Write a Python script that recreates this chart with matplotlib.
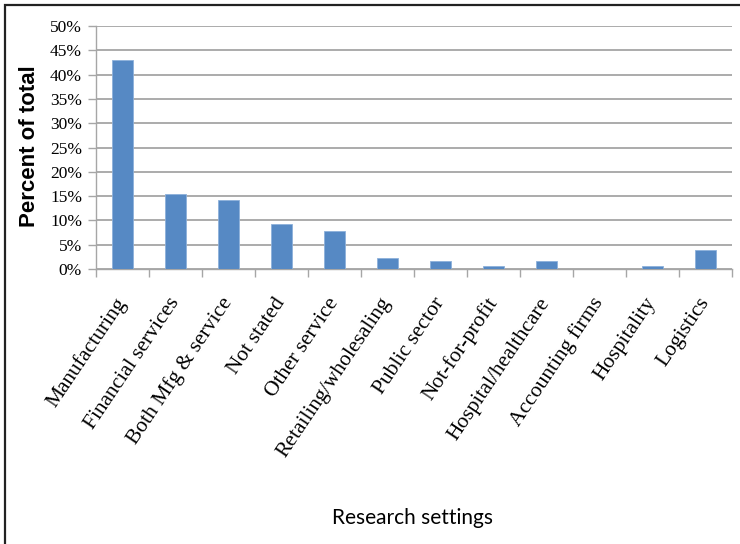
import matplotlib.pyplot as plt
from matplotlib.patches import Rectangle
from matplotlib.ticker import FixedLocator, FuncFormatter

settings = [
    "Manufacturing",
    "Financial services",
    "Both Mfg & service",
    "Not stated",
    "Other service",
    "Retailing/wholesaling",
    "Public sector",
    "Not-for-profit",
    "Hospital/healthcare",
    "Accounting firms",
    "Hospitality",
    "Logistics",
]
percent = [43.0, 15.4, 14.3, 9.3, 7.8, 2.2, 1.65, 0.6, 1.65, 0.0, 0.6, 3.85]
y_ticks = [0, 5, 10, 15, 20, 25, 30, 35, 40, 45, 50]

fig = plt.figure(figsize=(7.4, 5.44), dpi=100)
ax = fig.add_axes([96 / 740, 1 - 269 / 544, (732 - 96) / 740, (269 - 26) / 544])

x = list(range(len(settings)))
ax.bar(x, percent, width=0.4, color="#5689C4", edgecolor="#8DB0DA", linewidth=0.6, zorder=3)

ax.set_xlim(-0.5, len(settings) - 0.5)
ax.set_ylim(0, 50)
ax.set_yticks(y_ticks)
ax.yaxis.set_major_formatter(FuncFormatter(lambda v, p: f"{int(v)}%"))
ax.grid(axis="y", color="#ABABAB", linewidth=1.4, zorder=0)
ax.set_axisbelow(True)

for s in ["top", "right"]:
    ax.spines[s].set_visible(False)
for s in ["left", "bottom"]:
    ax.spines[s].set_color("#A6A6A6")
    ax.spines[s].set_linewidth(1.0)

ax.tick_params(axis="y", length=6, color="#A6A6A6", width=1.0, pad=4)
for lbl in ax.get_yticklabels():
    lbl.set_fontfamily("Liberation Serif")
    lbl.set_fontsize(12.5)

ax.set_xticks(x)
ax.tick_params(axis="x", which="major", length=0, pad=22)
ax.xaxis.set_minor_locator(FixedLocator([i - 0.5 for i in range(len(settings) + 1)]))
ax.tick_params(axis="x", which="minor", length=6, color="#A6A6A6", width=1.0)
ax.set_xticklabels(settings, rotation=56, ha="right", va="center",
                   rotation_mode="anchor", fontfamily="Liberation Serif", fontsize=15.5)

fig.text(30 / 740, 1 - 146 / 544, "Percent of total", rotation=90, ha="center", va="center",
         fontfamily="Liberation Sans", fontweight="bold", fontsize=16)
fig.text(413 / 740, 1 - 518 / 544, "Research settings", ha="center", va="center",
         fontfamily="Lato", fontsize=15)

# frame round the picture (only left and top edges show)
fig.patches.append(Rectangle((5 / 740, -0.1), 1.0, 1 - 5 / 544 + 0.1,
                             transform=fig.transFigure, fill=False,
                             edgecolor="#222222", linewidth=1.6))

fig.savefig("out.png", dpi=100)
